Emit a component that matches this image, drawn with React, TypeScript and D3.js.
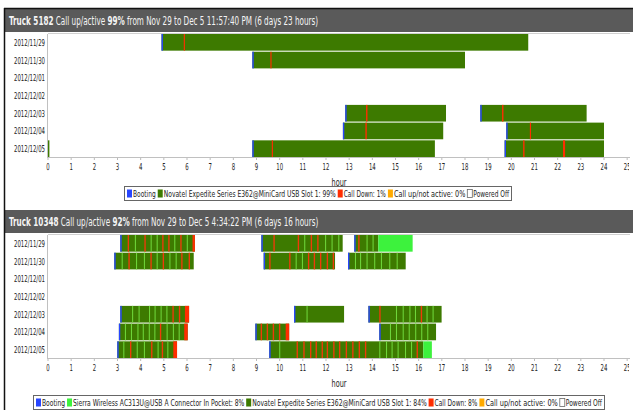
import { useLayoutEffect, useRef, useState } from "react";
import type { ReactNode } from "react";
import * as d3 from "d3";

// Days shown on the y axis of both trucks.
const days = [
  "2012/11/29",
  "2012/11/30",
  "2012/12/01",
  "2012/12/02",
  "2012/12/03",
  "2012/12/04",
  "2012/12/05",
];

const hourTicks = [
  0, 1, 2, 3, 4, 5, 6, 7, 8, 9, 10, 11, 12, 13, 14, 15, 16, 17, 18, 19, 20,
  21, 22, 23, 24, 25,
];

type Span = [number, number, number]; // [dayIndex, startHour, endHour]
type Blip = [number, number]; // [dayIndex, hour] short event

// ---- Truck 5182 ----
const t5182Novatel: Span[] = [
  [0, 4.9, 20.73],
  [1, 8.82, 18.0],
  [4, 12.83, 17.18],
  [4, 18.66, 23.25],
  [5, 12.73, 17.06],
  [5, 19.78, 24.0],
  [6, 0, 0.06],
  [6, 8.82, 16.7],
  [6, 19.71, 24.0],
];
const t5182Sierra: Span[] = [];
const t5182Boot: Blip[] = [
  [0, 4.9], [1, 8.82], [4, 12.83], [4, 18.66], [5, 12.73], [5, 19.78],
  [6, 8.82], [6, 19.71],
];
const t5182Down: Span[] = [
  [0, 5.86, 5.91], [1, 9.6, 9.65], [4, 13.73, 13.79], [4, 19.6, 19.66],
  [5, 13.7, 13.76], [5, 20.8, 20.85], [6, 9.66, 9.71], [6, 20.51, 20.57],
  [6, 22.23, 22.32],
];
const t5182SierraBlips: Blip[] = [];
const t5182DownBlips: Blip[] = [];

// ---- Truck 10348 ----
const t10348Novatel: Span[] = [
  [0, 3.12, 6.34], [0, 9.21, 12.72], [0, 13.22, 14.26],
  [1, 2.86, 6.29], [1, 9.31, 12.39], [1, 12.95, 15.44],
  [4, 3.12, 6.09], [4, 10.62, 12.78], [4, 13.83, 16.99],
  [5, 3.06, 6.03], [5, 8.95, 10.41], [5, 14.3, 16.75],
  [6, 2.99, 5.57], [6, 9.55, 16.2],
];
const t10348Sierra: Span[] = [
  [0, 14.26, 15.74],
  [6, 16.2, 16.57],
];
const t10348Boot: Blip[] = [
  [0, 3.12], [0, 9.21], [0, 13.22], [1, 2.86], [1, 9.31], [1, 12.95],
  [4, 3.12], [4, 10.62], [4, 13.83], [5, 3.06], [5, 8.95], [5, 14.3],
  [6, 2.99], [6, 9.55],
];
const t10348Down: Span[] = [
  [0, 6.24, 6.34], [4, 5.91, 6.09], [5, 5.88, 6.03], [5, 10.26, 10.41],
  [6, 5.41, 5.57],
];
const t10348SierraBlips: Blip[] = [
  [0, 3.75], [0, 4.43], [0, 4.69], [0, 5.45], [0, 5.99], [0, 11.06],
  [0, 11.96], [0, 12.24], [0, 12.53], [0, 13.75], [0, 14.01],
  [1, 3.18], [1, 3.8], [1, 4.14], [1, 4.69], [1, 5.24], [1, 5.51],
  [1, 10.69], [1, 10.96], [1, 13.25], [1, 13.47], [1, 13.75], [1, 14.08],
  [1, 14.37], [1, 14.73], [1, 15.05],
  [4, 3.63], [4, 3.91], [4, 4.36], [4, 4.6], [4, 4.86], [4, 5.11],
  [4, 11.16], [4, 15.02], [4, 15.31], [4, 15.6], [4, 15.84], [4, 16.34],
  [4, 16.6],
  [5, 3.32], [5, 3.58], [5, 3.86], [5, 4.09], [5, 4.35], [5, 4.59],
  [5, 5.12], [5, 5.39], [5, 5.64], [5, 14.76], [5, 15.02], [5, 15.31],
  [5, 15.57], [5, 15.85], [5, 16.11], [5, 16.37],
  [6, 3.25], [6, 3.83], [6, 4.14], [6, 4.73], [6, 5.15], [6, 9.98],
  [6, 14.3], [6, 14.59], [6, 14.83], [6, 15.09], [6, 15.41], [6, 15.67],
];
const t10348DownBlips: Blip[] = [
  [0, 3.44], [0, 4.16], [0, 4.93], [0, 5.19], [0, 5.71], [0, 9.73],
  [0, 10.78], [0, 11.34], [0, 11.62], [0, 13.39],
  [1, 3.47], [1, 4.42], [1, 4.95], [1, 5.75], [1, 6.07], [1, 9.55],
  [1, 10.41], [1, 11.22], [1, 11.47], [1, 11.74], [1, 12.03], [1, 12.29],
  [4, 5.37], [4, 5.65], [4, 14.3], [4, 16.09],
  [5, 4.83], [5, 9.18], [5, 9.44], [5, 9.7], [5, 9.97],
  [6, 3.54], [6, 4.45], [6, 4.91], [6, 10.73], [6, 11.02], [6, 11.31],
  [6, 11.55], [6, 11.81], [6, 12.03], [6, 12.31], [6, 12.56], [6, 12.85],
  [6, 13.13], [6, 13.41], [6, 13.68], [6, 15.91],
];

const legend5182 = [
  { label: "Booting", key: "boot" },
  { label: "Novatel Expedite Series E362@MiniCard USB Slot 1: 99%", key: "novatel" },
  { label: "Call Down: 1%", key: "down" },
  { label: "Call up/not active: 0%", key: "idle" },
  { label: "Powered Off", key: "off" },
];
const legend10348 = [
  { label: "Booting", key: "boot" },
  { label: "Sierra Wireless AC313U@USB A Connector In Pocket: 8%", key: "sierra" },
  { label: "Novatel Expedite Series E362@MiniCard USB Slot 1: 84%", key: "novatel" },
  { label: "Call Down: 8%", key: "down" },
  { label: "Call up/not active: 0%", key: "idle" },
  { label: "Powered Off", key: "off" },
];

const COLORS: Record<string, string> = {
  boot: "#2846ff",
  novatel: "#3d7a00",
  sierra: "#3df23d",
  down: "#ff2d00",
  idle: "#ffaa00",
  off: "#ffffff",
  sierraBlip: "#6fd63a",
  downBlip: "#f03a0a",
};

const FONT = "'DejaVu Sans Condensed', 'DejaVu Sans', sans-serif";
const BLIP_HOURS = 0.045; // brief events, ~2-3 minutes

// The original uses a very narrow font; squeeze real text to the width it had.
function FitText({
  x,
  y,
  width,
  anchor = "start",
  size,
  fill = "#222",
  children,
}: {
  x: number;
  y: number;
  width: number;
  anchor?: "start" | "middle" | "end";
  size: number;
  fill?: string;
  children: ReactNode;
}) {
  const ref = useRef<SVGTextElement>(null);
  const [k, setK] = useState(0.62);
  useLayoutEffect(() => {
    const n = ref.current?.getComputedTextLength() ?? 0;
    if (n > 0) {
      const next = width / n;
      if (Math.abs(next - k) > 0.001) setK(next);
    }
  });
  return (
    <g transform={`translate(${x},${y}) scale(${k},1)`}>
      <text ref={ref} x={0} y={0} textAnchor={anchor} fontFamily={FONT} fontSize={size} fill={fill}>
        {children}
      </text>
    </g>
  );
}

type PanelProps = {
  title: [string, string, string, string];
  top: number;
  novatel: Span[];
  sierra: Span[];
  boot: Blip[];
  down: Span[];
  sierraBlips: Blip[];
  downBlips: Blip[];
  legend: { label: string; key: string }[];
  legendX: [number, number];
  legendY: number;
};

function Panel(p: PanelProps) {
  const headerTop = p.top;
  const headerBottom = p.top + 23;
  const plotTop = headerBottom + 2;
  const plotBottom = plotTop + 123;

  const x = d3.scaleLinear().domain([0, 24]).range([48, 604]);
  const y = d3
    .scaleBand<number>()
    .domain(days.map((_, i) => i))
    .range([plotTop, plotBottom])
    .paddingInner(0.06);
  const bw = y.bandwidth();

  const rect = (s: Span, fill: string, key: string) => (
    <rect
      key={key}
      x={x(s[1])}
      y={y(s[0])}
      width={Math.max(0.8, x(s[2]) - x(s[1]))}
      height={bw}
      fill={fill}
    />
  );

  // legend layout: swatches + condensed text spread across the box
  const [lx0, lx1] = p.legendX;
  const chars = d3.sum(p.legend, (d) => d.label.length);
  const cw = (lx1 - lx0 - 4 - p.legend.length * 8) / chars;
  let cursor = lx0 + 3;
  const legendItems = p.legend.map((d) => {
    const sx = cursor;
    const tw = d.label.length * cw;
    cursor += 6 + tw + 2;
    return { ...d, sx, tx: sx + 6, tw };
  });

  return (
    <g>
      <rect x={4} y={headerTop} width={629} height={headerBottom - headerTop} fill="#5a5a5a" />
      <FitText x={9} y={headerTop + 16} width={309} size={12} fill="#f4f4f4">
        <tspan fontWeight="bold">{p.title[0]}</tspan>
        <tspan> {p.title[1]} </tspan>
        <tspan fontWeight="bold">{p.title[2]}</tspan>
        <tspan> {p.title[3]}</tspan>
      </FitText>

      {/* frame */}
      <line x1={48} x2={630} y1={plotTop - 0.5} y2={plotTop - 0.5} stroke="#d0d0d0" />
      <line x1={48} x2={630} y1={plotBottom + 0.5} y2={plotBottom + 0.5} stroke="#c0c0c0" />
      <line x1={47.5} x2={47.5} y1={plotTop} y2={plotBottom + 1} stroke="#c0c0c0" />

      {days.map((d, i) => (
        <FitText key={d} x={45} y={(y(i) ?? 0) + bw / 2 + 3.5} width={31} anchor="end" size={9.5}>
          {d}
        </FitText>
      ))}

      {p.novatel.map((s, i) => rect(s, COLORS.novatel, `n${i}`))}
      {p.sierra.map((s, i) => rect(s, COLORS.sierra, `s${i}`))}
      {p.sierraBlips.map((b, i) =>
        rect([b[0], b[1], b[1] + BLIP_HOURS], COLORS.sierraBlip, `sb${i}`),
      )}
      {p.downBlips.map((b, i) =>
        rect([b[0], b[1], b[1] + BLIP_HOURS * 1.3], COLORS.downBlip, `db${i}`),
      )}
      {p.down.map((s, i) => rect(s, COLORS.down, `d${i}`))}
      {p.boot.map((b, i) => rect([b[0], b[1], b[1] + 0.06], COLORS.boot, `b${i}`))}

      <g clipPath="url(#clipRight)">
        {hourTicks.map((h) => (
          <g key={h}>
            <line
              x1={x(h)}
              x2={x(h)}
              y1={plotBottom + 1}
              y2={plotBottom + 3}
              stroke="#bbb"
            />
            <FitText
              x={x(h)}
              y={plotBottom + 13}
              width={String(h).length * 3.4}
              anchor="middle"
              size={9.5}
            >
              {h}
            </FitText>
          </g>
        ))}
      </g>
      <FitText x={339} y={plotBottom + 29} width={15} anchor="middle" size={10}>
        hour
      </FitText>

      <rect
        x={lx0 + 0.5}
        y={p.legendY + 0.5}
        width={lx1 - lx0 - 1}
        height={14}
        fill="#fff"
        stroke="#666"
      />
      {legendItems.map((d) => (
        <g key={d.key}>
          <rect
            x={d.sx}
            y={p.legendY + 3.5}
            width={5}
            height={8}
            fill={COLORS[d.key]}
            stroke={d.key === "off" ? "#666" : "none"}
            strokeWidth={0.8}
          />
          <FitText x={d.tx} y={p.legendY + 11} width={d.tw} size={9.5}>
            {d.label}
          </FitText>
        </g>
      ))}
    </g>
  );
}

export default function App() {
  return (
    <svg
      width={633}
      height={410}
      style={{ position: "absolute", left: 0, top: 0, background: "#fff" }}
    >
      <defs>
        <clipPath id="clipRight">
          <rect x={0} y={0} width={629} height={410} />
        </clipPath>
      </defs>
      <rect x={0} y={0} width={633} height={410} fill="#fff" />
      <Panel
        title={[
          "Truck 5182",
          "Call up/active",
          "99%",
          "from Nov 29 to Dec 5 11:57:40 PM (6 days 23 hours)",
        ]}
        top={9}
        novatel={t5182Novatel}
        sierra={t5182Sierra}
        boot={t5182Boot}
        down={t5182Down}
        sierraBlips={t5182SierraBlips}
        downBlips={t5182DownBlips}
        legend={legend5182}
        legendX={[124, 512]}
        legendY={186}
      />
      <Panel
        title={[
          "Truck 10348",
          "Call up/active",
          "92%",
          "from Nov 29 to Dec 5 4:34:22 PM (6 days 16 hours)",
        ]}
        top={210}
        novatel={t10348Novatel}
        sierra={t10348Sierra}
        boot={t10348Boot}
        down={t10348Down}
        sierraBlips={t10348SierraBlips}
        downBlips={t10348DownBlips}
        legend={legend10348}
        legendX={[33, 605]}
        legendY={395}
      />
      {/* outer frame */}
      <line x1={4} x2={633} y1={8.5} y2={8.5} stroke="#111" strokeWidth={1.5} />
      <line x1={4.5} x2={4.5} y1={8} y2={410} stroke="#111" strokeWidth={1.5} />
    </svg>
  );
}
